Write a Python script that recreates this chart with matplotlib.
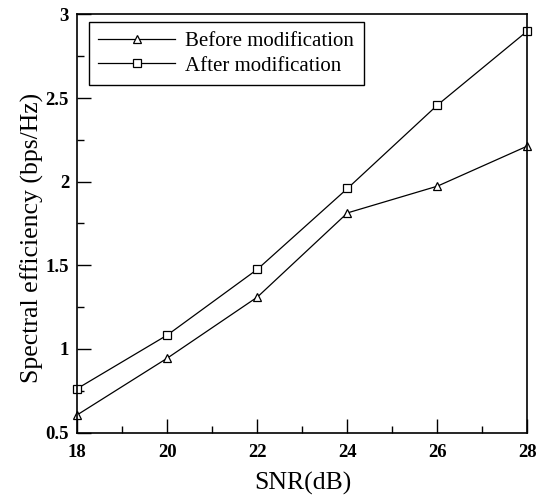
import matplotlib.pyplot as plt
from matplotlib.ticker import FormatStrFormatter, MultipleLocator

snr_db = [18, 20, 22, 24, 26, 28]
before_mod = [0.606, 0.945, 1.31, 1.813, 1.973, 2.213]
after_mod = [0.763, 1.083, 1.476, 1.959, 2.458, 2.901]

plt.rcParams["font.family"] = ["Liberation Serif", "DejaVu Serif"]

fig = plt.figure(figsize=(5.41, 4.96), dpi=100)
ax = fig.add_axes([0.143, 0.128, 0.832, 0.843])

ax.plot(snr_db, before_mod, color="black", linewidth=0.9, marker="^",
        markersize=6, markerfacecolor="white", markeredgecolor="black",
        markeredgewidth=0.9, label="Before modification", clip_on=False)
ax.plot(snr_db, after_mod, color="black", linewidth=0.9, marker="s",
        markersize=6, markerfacecolor="white", markeredgecolor="black",
        markeredgewidth=0.9, label="After modification", clip_on=False)

ax.set_xlim(18, 28)
ax.set_ylim(0.5, 3)
ax.xaxis.set_major_locator(MultipleLocator(2))
ax.xaxis.set_minor_locator(MultipleLocator(1))
ax.yaxis.set_major_locator(MultipleLocator(0.5))
ax.yaxis.set_minor_locator(MultipleLocator(0.25))
ax.yaxis.set_major_formatter(FormatStrFormatter("%g"))

ax.tick_params(which="both", direction="in", top=False, right=False,
               width=1.0, labelsize=13.5)
ax.tick_params(axis="x", pad=8)
ax.tick_params(axis="y", pad=6)
ax.tick_params(which="major", length=10)
ax.tick_params(which="minor", length=5)
for lbl in ax.get_xticklabels() + ax.get_yticklabels():
    lbl.set_fontweight("bold")

for side in ax.spines.values():
    side.set_linewidth(1.2)

ax.set_xlabel("SNR(dB)", fontsize=18.5, labelpad=8)
ax.set_ylabel("Spectral efficiency (bps/Hz)", fontsize=18.5, labelpad=1)
ax.yaxis.label.set_y(0.465)

leg = ax.legend(loc="upper left", bbox_to_anchor=(0.025, 0.982), fontsize=15,
                frameon=True, fancybox=False, framealpha=1, edgecolor="black",
                borderpad=0.45, labelspacing=0.25, handlelength=3.7,
                handletextpad=0.5, borderaxespad=0)
leg.get_frame().set_linewidth(1.0)

fig.savefig("out.png", dpi=100)
